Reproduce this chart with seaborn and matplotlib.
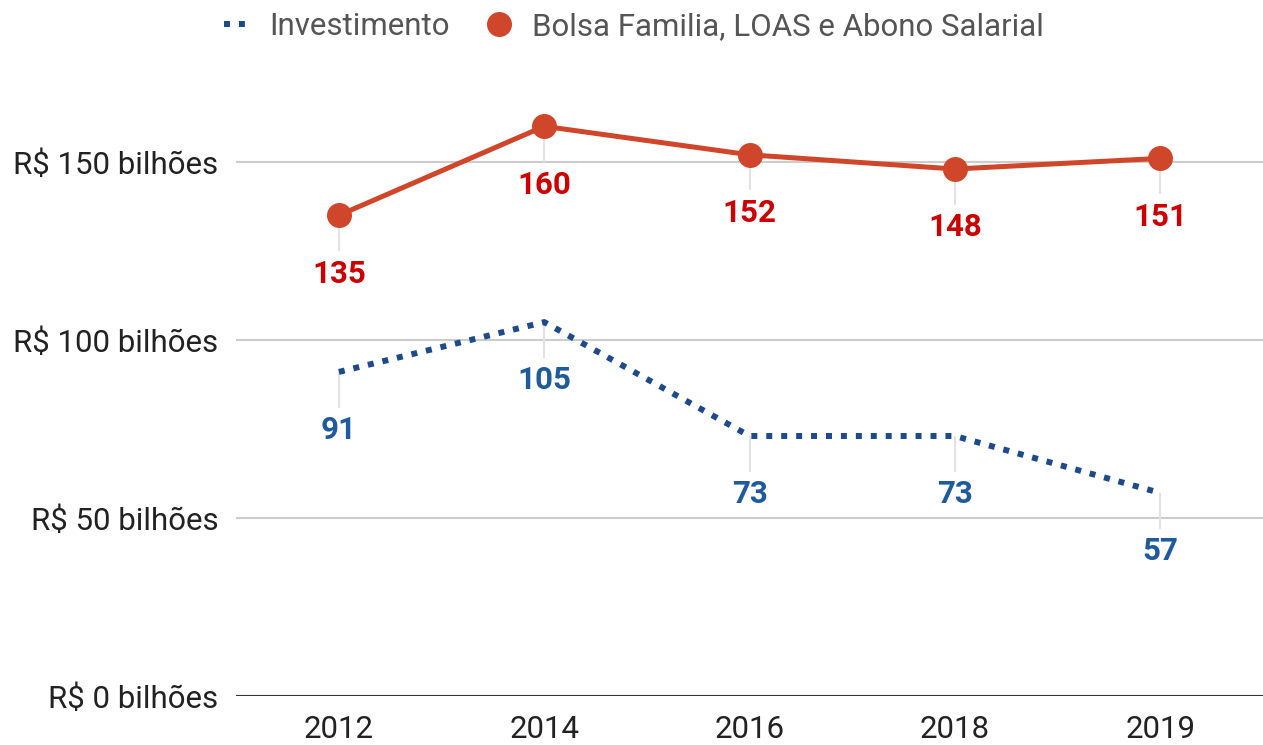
import pandas as pd
import matplotlib.pyplot as plt
import seaborn as sns
from matplotlib.lines import Line2D

# values in R$ billions
anos = ['2012', '2014', '2016', '2018', '2019']
investimento = [91, 105, 73, 73, 57]
bolsa = [135, 160, 152, 148, 151]
y_ticks = [0, 50, 100, 150]
y_labels = ['R$ 0 bilhões', 'R$ 50 bilhões', 'R$ 100 bilhões', 'R$ 150 bilhões']

cor_inv = '#1c4a8c'
cor_inv_txt = '#1f5b9c'
cor_bolsa = '#d0462b'
cor_bolsa_txt = '#cc0000'

sns.set_style('white')
plt.rcParams['font.family'] = ['Roboto', 'DejaVu Sans']

df = pd.DataFrame({'ano': anos, 'inv': investimento, 'bolsa': bolsa})

fig = plt.figure(figsize=(12.63, 7.45), dpi=100)
ax = fig.add_axes([0.187, 0.066, 0.813, 0.86])

# light leader lines under each point
for i, (a, b) in enumerate(zip(investimento, bolsa)):
    ax.vlines(i, a - 10, a, color='#e2e2e2', lw=1.5, zorder=1)
    ax.vlines(i, b - 10, b, color='#e2e2e2', lw=1.5, zorder=1)

sns.lineplot(data=df, x='ano', y='inv', ax=ax, color=cor_inv, lw=4.3,
             linestyle=(0, (1, 1.5)), dash_capstyle='butt', zorder=3)
sns.lineplot(data=df, x='ano', y='bolsa', ax=ax, color=cor_bolsa, lw=3.6,
             marker='o', markersize=18, markeredgewidth=0, zorder=3)

for i, v in enumerate(investimento):
    ax.annotate(str(v), (i, v), xytext=(0, -42), textcoords='offset points',
                ha='center', va='center', fontsize=22.5, fontweight='bold', color=cor_inv_txt)
for i, v in enumerate(bolsa):
    ax.annotate(str(v), (i, v), xytext=(0, -42), textcoords='offset points',
                ha='center', va='center', fontsize=22.5, fontweight='bold', color=cor_bolsa_txt)

ax.set_xlim(-0.5, len(anos) - 0.5)
ax.set_ylim(0, 180)
ax.set_yticks(y_ticks)
ax.set_yticklabels(y_labels)
ax.grid(axis='y', color='#cccccc', lw=1.5)
ax.axhline(0, color='#333333', lw=1.5, zorder=2)
ax.tick_params(axis='y', length=0, pad=13, labelsize=22.5, labelcolor='#222222')
ax.tick_params(axis='x', length=0, pad=14, labelsize=22.5, labelcolor='#222222')
ax.set_xlabel('')
ax.set_ylabel('')
sns.despine(ax=ax, left=True, bottom=True)

handles = [
    Line2D([], [], color=cor_inv, lw=4.3, linestyle=(0, (1, 1.5)), dash_capstyle='butt'),
    Line2D([], [], color=cor_bolsa, lw=0, marker='o', markersize=18, markeredgewidth=0),
]
fig.legend(handles, ['Investimento', 'Bolsa Familia, LOAS e Abono Salarial'],
           loc='upper center', bbox_to_anchor=(0.502, 1.022), ncol=2, frameon=False,
           fontsize=22.5, labelcolor='#555555', handlelength=0.75, handletextpad=0.7,
           columnspacing=1.2)

fig.savefig('out.png', dpi=100)
